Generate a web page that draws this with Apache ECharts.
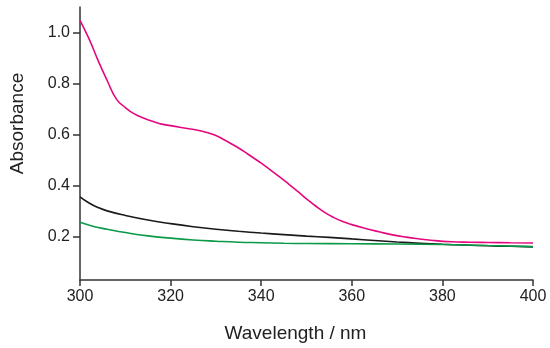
<!DOCTYPE html>
<html>
<head>
<meta charset="utf-8">
<style>
  html, body { margin: 0; padding: 0; background: #fff; }
  #chart { width: 550px; height: 348px; }
</style>
<script src="https://cdn.jsdelivr.net/npm/echarts@6/dist/echarts.min.js"></script>
</head>
<body>
<div id="chart"></div>
<script>
// Wavelength (nm) and absorbance values
const magentaX = [300, 302, 304, 306, 308, 310, 312, 314, 316, 318, 320, 322, 324, 326, 328, 330, 332, 334, 336, 338, 340, 342, 344, 346, 348, 350, 352, 354, 356, 358, 360, 363, 366, 369, 372, 375, 378, 382, 386, 390, 395, 400];
const magentaY = [1.048, 0.975, 0.890, 0.812, 0.740, 0.706, 0.681, 0.665, 0.652, 0.641, 0.635, 0.629, 0.623, 0.617, 0.608, 0.596, 0.578, 0.558, 0.536, 0.512, 0.488, 0.462, 0.435, 0.407, 0.378, 0.348, 0.320, 0.295, 0.275, 0.259, 0.247, 0.232, 0.219, 0.207, 0.198, 0.191, 0.185, 0.180, 0.178, 0.177, 0.176, 0.175];

const blackX = [300, 302, 304, 306, 310, 315, 320, 325, 330, 335, 340, 345, 350, 355, 360, 365, 370, 375, 380, 385, 390, 395, 400];
const blackY = [0.356, 0.332, 0.314, 0.301, 0.283, 0.265, 0.251, 0.239, 0.229, 0.221, 0.214, 0.208, 0.202, 0.197, 0.191, 0.185, 0.179, 0.174, 0.170, 0.167, 0.164, 0.162, 0.160];

const greenX = [300, 303, 306, 310, 315, 320, 325, 330, 335, 340, 345, 350, 360, 370, 380, 390, 400];
const greenY = [0.256, 0.240, 0.229, 0.216, 0.203, 0.194, 0.187, 0.182, 0.178, 0.176, 0.174, 0.173, 0.172, 0.171, 0.169, 0.165, 0.161];

const yTickValues = [0.2, 0.4, 0.6, 0.8, 1.0];
const xTitle = 'Wavelength / nm';
const yTitle = 'Absorbance';

function pairs(xs, ys) { return xs.map((x, i) => [x, ys[i]]); }

const chart = echarts.init(document.getElementById('chart'), null, { renderer: 'canvas' });
const fontFamily = 'Liberation Sans, Arial, sans-serif';
const axisColor = '#333';

const lineCommon = { smooth: 0.5, showSymbol: false };

chart.setOption({
  animation: false,
  backgroundColor: '#fff',
  grid: { left: 77, right: 17, top: 7, bottom: 67, containLabel: false },
  xAxis: {
    type: 'value',
    min: 300, max: 400, interval: 20,
    name: xTitle,
    nameLocation: 'middle',
    nameGap: 44,
    nameTextStyle: { fontFamily, fontSize: 19, color: '#222', padding: [0, 22, 0, 0] },
    axisLine: { show: true, lineStyle: { color: axisColor, width: 1.5 } },
    axisTick: { show: true, length: 6, lineStyle: { color: axisColor, width: 1.5 } },
    axisLabel: { fontFamily, fontSize: 16, color: '#222', margin: 9 },
    splitLine: { show: false }
  },
  yAxis: {
    type: 'value',
    min: 0.03, max: 1.1,
    name: yTitle,
    nameLocation: 'middle',
    nameGap: 53,
    nameTextStyle: { fontFamily, fontSize: 19, color: '#222', padding: [0, 0, 0, 40] },
    axisLine: { show: true, lineStyle: { color: axisColor, width: 1.5 } },
    axisTick: { show: true, length: 7, customValues: yTickValues, lineStyle: { color: axisColor, width: 1.5 } },
    axisLabel: { fontFamily, fontSize: 16, color: '#222', margin: 10, customValues: yTickValues,
      formatter: v => Number(v).toFixed(1) },
    splitLine: { show: false }
  },
  series: [
    Object.assign({ type: 'line', name: 'magenta', data: pairs(magentaX, magentaY),
      lineStyle: { color: '#e4087f', width: 1.6 }, itemStyle: { color: '#e4087f' } }, lineCommon),
    Object.assign({ type: 'line', name: 'black', data: pairs(blackX, blackY),
      lineStyle: { color: '#1a1a1a', width: 1.6 }, itemStyle: { color: '#1a1a1a' } }, lineCommon),
    Object.assign({ type: 'line', name: 'green', data: pairs(greenX, greenY),
      lineStyle: { color: '#0a9a48', width: 1.6 }, itemStyle: { color: '#0a9a48' } }, lineCommon)
  ]
});
</script>
</body>
</html>
